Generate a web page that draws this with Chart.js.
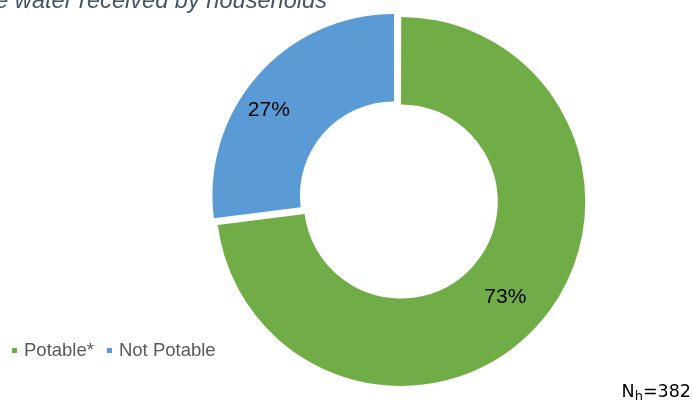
<!DOCTYPE html>
<html>
<head>
<meta charset="utf-8">
<script src="https://cdn.jsdelivr.net/npm/chart.js@4.4.0/dist/chart.umd.min.js"></script>
<style>
  html, body { margin: 0; padding: 0; background: #fff; }
  #wrap { position: relative; width: 693px; height: 405px; overflow: hidden; }
  #title {
    position: absolute; right: 366px; top: -12px; white-space: nowrap;
    font: italic 23.6px "Liberation Sans", Arial, sans-serif; line-height: 24px; color: #44546A;
  }
  #legend {
    position: absolute; left: 12px; top: 340px; display: flex; align-items: center;
    font: 18.5px "Liberation Sans", Arial, sans-serif; line-height: 20px; color: #595959;
  }
  #legend .item { display: flex; align-items: center; margin-right: 13px; }
  #legend .box { width: 5px; height: 5px; margin-right: 7px; }
  #note {
    position: absolute; right: 2px; top: 381px; white-space: nowrap;
    font: 17.5px "DejaVu Sans", sans-serif; line-height: 20px; color: #000;
  }
  #note sub { font-size: 13px; vertical-align: -3px; line-height: 0; }
</style>
</head>
<body>
<div id="wrap">
  <canvas id="myChart" width="693" height="405"></canvas>
  <div id="title">Quality of the water received by households</div>
  <div id="legend"></div>
  <div id="note">N<sub>h</sub>=382</div>
</div>
<script>
// Data
const labels = ['Potable*', 'Not Potable'];
const shares = [73, 27];
const colours = ['#70AD47', '#5B9BD5'];

// label placement (fraction of ring width, angle nudge in degrees)
const labelFrac = [0.55, 0.66];
const labelNudge = [1.2, -7];

// Legend
const legend = document.getElementById('legend');
labels.forEach(function (lab, i) {
  const item = document.createElement('div');
  item.className = 'item';
  const box = document.createElement('span');
  box.className = 'box';
  box.style.background = colours[i];
  const txt = document.createElement('span');
  txt.textContent = lab;
  item.appendChild(box);
  item.appendChild(txt);
  legend.appendChild(item);
});

// Percent labels on the ring
const pctLabels = {
  id: 'pctLabels',
  afterDatasetsDraw(chart) {
    const ctx = chart.ctx;
    const meta = chart.getDatasetMeta(0);
    const offsets = chart.data.datasets[0].offset;
    ctx.save();
    ctx.font = '21px "Liberation Sans", Arial, sans-serif';
    ctx.fillStyle = '#000';
    ctx.textAlign = 'center';
    ctx.textBaseline = 'middle';
    meta.data.forEach(function (arc, i) {
      const p = arc.getProps(['x', 'y', 'startAngle', 'endAngle', 'innerRadius', 'outerRadius'], true);
      const mid = (p.startAngle + p.endAngle) / 2;
      const ang = mid + labelNudge[i] * Math.PI / 180;
      const r = p.innerRadius + (p.outerRadius - p.innerRadius) * labelFrac[i];
      // chart.js moves an arc by offset / 4 along its middle
      const ox = Math.cos(mid) * offsets[i] / 4;
      const oy = Math.sin(mid) * offsets[i] / 4;
      ctx.fillText(shares[i] + '%', p.x + ox + Math.cos(ang) * r, p.y + oy + Math.sin(ang) * r);
    });
    ctx.restore();
  }
};

// Configure chart
const config = {
  type: 'doughnut',
  data: {
    labels: labels,
    datasets: [{
      data: shares,
      backgroundColor: colours,
      borderWidth: 0,
      offset: [12, 24],
      hoverOffset: 0
    }]
  },
  options: {
    responsive: false,
    animation: false,
    cutout: '51.8%',
    layout: { padding: { left: 205, right: 101, top: 6, bottom: 12 } },
    plugins: {
      legend: { display: false },
      tooltip: { enabled: false }
    }
  },
  plugins: [pctLabels]
};

const myChart = new Chart(document.getElementById('myChart'), config);
</script>
</body>
</html>
